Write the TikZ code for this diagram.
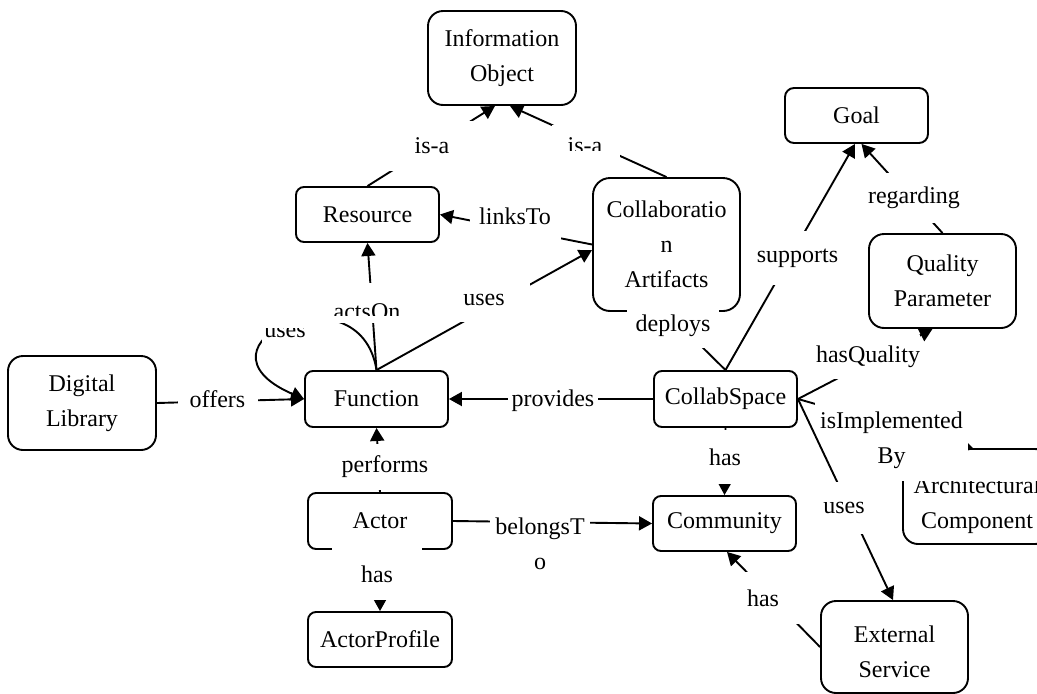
\documentclass[tikz,border=0pt]{standalone}
\usepackage{fontspec}
\setmainfont{Liberation Serif}
\usetikzlibrary{arrows.meta}
\newcommand{\dgfont}{\fontsize{24}{35}\selectfont}
\begin{document}
\begin{tikzpicture}[x=1pt,y=-1pt,
  box/.style={draw, line width=1.9pt, rounded corners=8pt, fill=white, align=center, inner sep=0pt, font=\dgfont},
  bigbox/.style={box, rounded corners=15pt},
  edge/.style={line width=1.9pt, -{Triangle[length=13pt,width=14pt]}},
  lbl/.style={fill=white, inner sep=0pt, align=center, font=\dgfont},
  lbltext/.style={inner sep=0pt, align=center, font=\dgfont}]
\useasboundingbox (0,0) rectangle (1037,694);

% ---------- nodes ----------
\node[bigbox, minimum width=148pt, minimum height=94pt] (io) at (502,58) {Information\\Object};
\node[box, minimum width=143pt, minimum height=55pt] (res) at (367.5,214.5) {Resource};
\node[bigbox, rounded corners=17pt, minimum width=147pt, minimum height=133pt] (ca) at (666.5,244.5) {Collaboratio\\n\\Artifacts};
\node[box, rounded corners=9pt, minimum width=143pt, minimum height=55pt] (goal) at (856.5,115.5) {Goal};
\node[bigbox, minimum width=147pt, minimum height=94pt] (qp) at (942.5,281) {Quality\\Parameter};
\node[bigbox, minimum width=148pt, minimum height=94pt] (dl) at (82,403) {Digital\\Library};
\node[box, minimum width=143pt, minimum height=56pt] (fn) at (376.5,399) {Function};
\node[box, minimum width=144pt, minimum height=56pt] (actor) at (380,521) {Actor};
\node[box, minimum width=144pt, minimum height=55pt] (ap) at (380,639.5) {ActorProfile};
\node[box, minimum width=143pt, minimum height=56pt] (cs) at (725.5,399) {CollabSpace};
\node[box, minimum width=143pt, minimum height=55pt] (com) at (724.5,523.5) {Community};
\node[bigbox, minimum width=147pt, minimum height=92pt] (es) at (894.5,647) {};
\node[lbltext] (estext) at (894.5,652) {External\\Service};
\node[bigbox, minimum width=147pt, minimum height=95pt] (arch) at (976.5,496.5) {};
\begin{scope}
  \clip (900,481) rectangle (1040,560);
  \node[lbltext] (archtext) at (977,505) {Architectural\\Component};
\end{scope}
\coordinate (archtip) at (974,449);

% ---------- edges ----------
\draw[edge] (res.north) -- ([xshift=-7pt]io.south);
\draw[edge] (ca.north) -- ([xshift=8pt]io.south);
\draw[edge] (ca.west) -- (res.east);
\draw[edge] (fn.north) -- (res.south);
\draw[edge] (fn.north) -- ([yshift=-5.5pt]ca.west);
\draw[edge] (fn.north) .. controls (360,265) and (180,345) .. (fn.west);
\draw[edge] (dl.east) -- (fn.west);
\draw[edge] (cs.west) -- (fn.east);
\draw[edge] (cs.north) -- (ca.south);
\draw[edge] (cs.north) -- ([xshift=-1.5pt]goal.south);
\draw[edge] (qp.north) -- ([xshift=5pt]goal.south);
\draw[edge] (cs.east) -- ([xshift=-10pt]qp.south);
\draw[edge] (cs.east) -- (archtip);
\draw[edge] (cs.south) -- (com.north);
\draw[edge] (es.west) -- ([xshift=2.5pt]com.south);
\draw[edge] (actor.east) -- (com.west);
\draw[edge] (actor.north) -- (fn.south);
\draw[edge] (actor.south) -- (ap.north);

% ---------- labels ----------
\node[lbl, minimum width=90pt, minimum height=50pt] (l1) at (432,146) {is-a};
\node[lbl, minimum width=68pt, minimum height=33pt] (l2bg) at (585.5,141) {};
\begin{scope}
  \clip (540,110) rectangle (630,150);
  \node[lbltext] (l2) at (585,146) {is-a};
\end{scope}
\node[lbl, minimum width=91pt, minimum height=46pt] (l3) at (515,216.5) {linksTo};
\node[lbl, minimum width=95pt, minimum height=40pt] (l4bg) at (367.5,303) {};
\begin{scope}
  \clip (320,280) rectangle (415,315.5);
  \node[lbltext] (l4) at (367,312) {actsOn};
\end{scope}
\node[lbl, minimum width=92pt, minimum height=44pt] (l5) at (484,300) {uses};
\node[lbl, minimum width=68pt, minimum height=30pt] (l6bg) at (296,331) {};
\begin{scope}
  \clip (255,328) rectangle (335,350);
  \node[lbltext] (l6) at (285,331.5) {uses};
\end{scope}
\node[lbl, minimum width=80pt, minimum height=44pt] (l7) at (217.5,399) {offers};
\node[lbl, minimum width=90pt, minimum height=44pt] (l8) at (553,401) {provides};
\node[lbl, minimum width=92pt, minimum height=44pt] (l9) at (673,326) {deploys};
\node[lbl, minimum width=91pt, minimum height=54pt] (l10) at (797.5,258) {supports};
\node[lbl, minimum width=92pt, minimum height=50pt] (l11) at (914,198) {regarding};
\node[lbl, minimum width=104pt, minimum height=44pt] (l12) at (868,357) {hasQuality};
\node[lbl, minimum width=153pt, minimum height=81pt] (l13) at (891.5,440.5) {isImplemented\\By};
\node[lbl, minimum width=90pt, minimum height=54pt] (l14) at (725,457) {has};
\node[lbl, minimum width=90pt, minimum height=52pt] (l16) at (763,598) {has};
\node[lbl, minimum width=100pt, minimum height=84pt] (l17) at (540,544) {belongsT\\o};
\node[lbl, minimum width=100pt, minimum height=46pt] (l18) at (385,467) {performs};
\node[lbl, minimum width=90pt, minimum height=52pt] (l19) at (377,574) {has};

% edge drawn over the isImplementedBy label
\draw[edge] (cs.east) -- ([xshift=-1.5pt]es.north);
\node[lbl, minimum width=90pt, minimum height=52pt] (l15) at (844,508) {uses};
\end{tikzpicture}
\end{document}
